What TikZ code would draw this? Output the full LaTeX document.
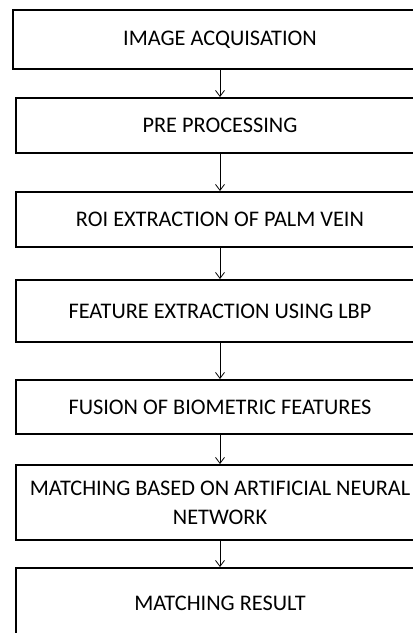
\documentclass[tikz,border=0pt]{standalone}
\usepackage{fontspec}
\setmainfont{Carlito}
\usetikzlibrary{arrows.meta}
\begin{document}
\begin{tikzpicture}[x=1pt,y=-1pt,
  box/.style={draw, line width=2pt, inner sep=0pt, minimum width=409pt,
    font=\fontsize{22.3}{29}\selectfont, align=center},
  arr/.style={-{Straight Barb[length=6pt,width=9pt]}, line width=0.8pt}]
\useasboundingbox (0,0) rectangle (413,633);
\clip (0,0) rectangle (413,633);
\node[box, minimum width=414pt, minimum height=59.5pt] (b1) at (220,39.25) {IMAGE ACQUISATION};
\node[box, minimum height=55pt] (b2) at (220,125.5) {PRE PROCESSING};
\node[box, minimum height=55pt] (b3) at (220,219.5) {ROI EXTRACTION OF PALM VEIN};
\node[box, minimum height=62pt] (b4) at (220,311) {FEATURE EXTRACTION USING LBP};
\node[box, minimum height=54pt] (b5) at (220,407) {FUSION OF BIOMETRIC FEATURES};
\node[box, minimum height=75pt] (b6) at (220,502.5) {MATCHING BASED ON ARTIFICIAL NEURAL\\NETWORK};
\node[box, minimum height=70pt] (b7) at (220,603) {MATCHING RESULT};
\draw[arr] (b1) -- (b2);
\draw[arr] (b2) -- (b3);
\draw[arr] (b3) -- (b4);
\draw[arr] (b4) -- (b5);
\draw[arr] (b5) -- (b6);
\draw[arr] (b6) -- (b7);
\end{tikzpicture}
\end{document}
